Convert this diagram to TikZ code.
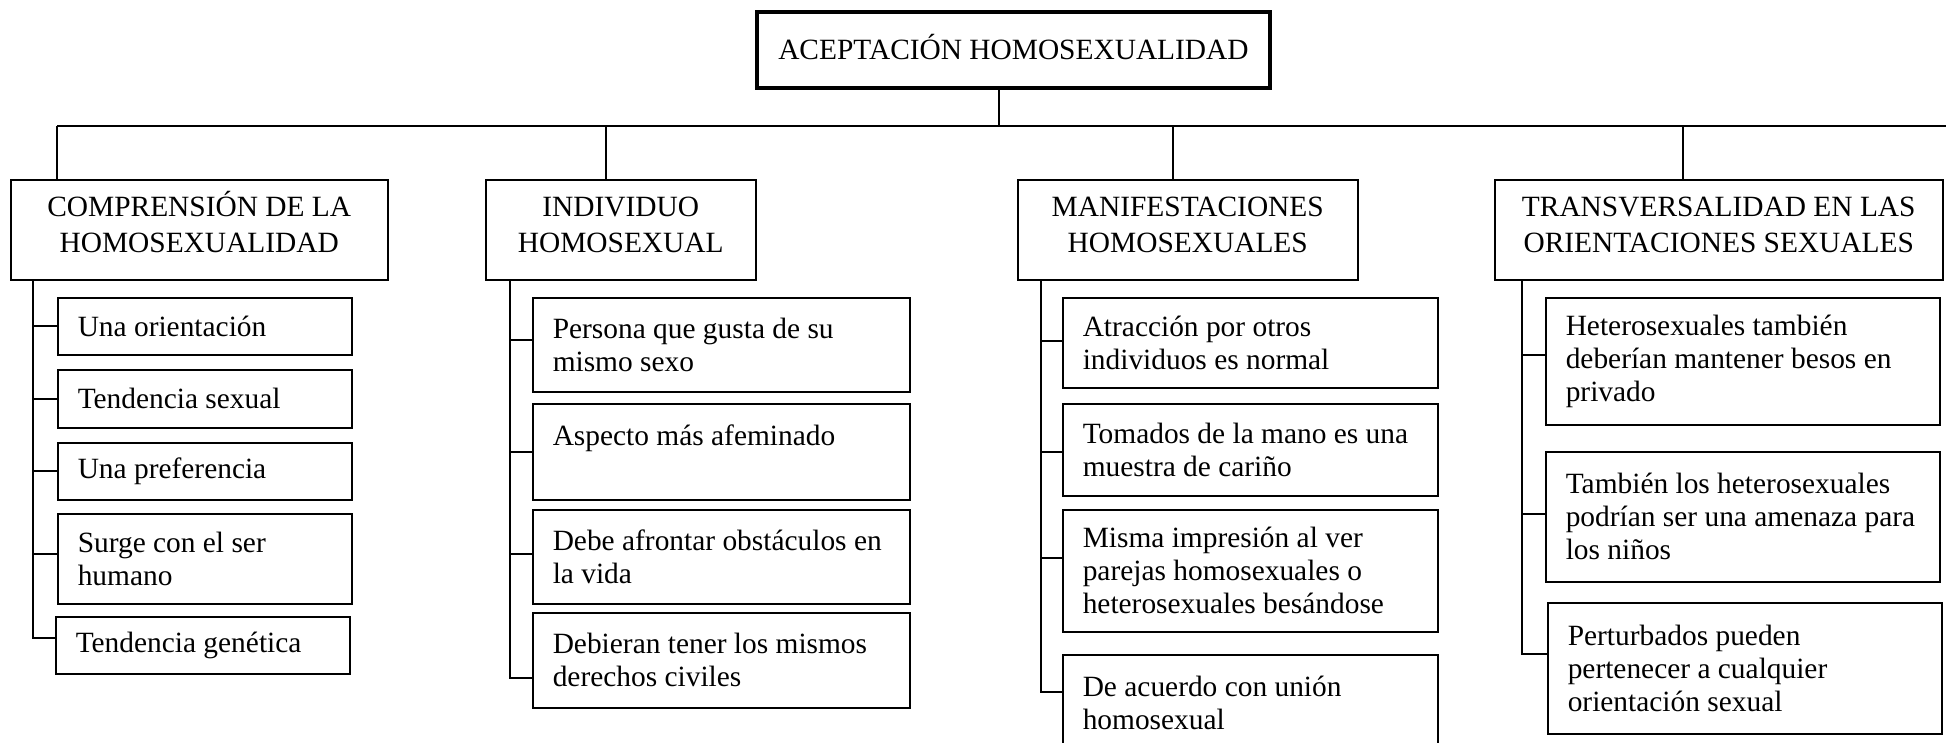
\documentclass[tikz,border=0pt]{standalone}
\usepackage{fontspec}
\setmainfont{Liberation Serif}
\usetikzlibrary{positioning,calc}
\definecolor{mapink}{RGB}{0,0,0}
\tikzset{
  rootbox/.style={
    draw=mapink,
    line width=4pt,
    anchor=north west,
    minimum width=513pt,
    minimum height=76pt,
    inner sep=0pt,
    text height=19.5pt,
    text depth=0pt,
    font=\fontsize{29.4pt}{34pt}\selectfont
  },
  catbox/.style={
    draw=mapink,
    line width=1.5pt,
    anchor=north west,
    minimum height=100pt,
    align=center,
    inner sep=0pt,
    text height=45.5pt,
    text depth=0pt,
    font=\fontsize{29.4pt}{36pt}\selectfont
  },
  leaf/.style={
    draw=mapink,
    line width=1.5pt,
    anchor=north west,
    text width=#1,
    align=justify,
    inner xsep=20pt,
    inner ysep=0pt,
    font=\fontsize{29.4pt}{33pt}\selectfont
  },
  link/.style={line width=2pt,mapink},
  bus/.style={line width=2.5pt,mapink}
}
\begin{document}
\begin{tikzpicture}[x=1pt, y=-1pt]
  \useasboundingbox[fill=white] (0,0) rectangle (1946,742);
  % raiz
  \node[rootbox] (root) at (755,10) {ACEPTACIÓN HOMOSEXUALIDAD};
  % categorias
  \node[catbox, minimum width=377pt] (catA) at (10,179) {COMPRENSIÓN DE LA\\HOMOSEXUALIDAD};
  \node[catbox, minimum width=270pt] (catB) at (485,179) {INDIVIDUO\\HOMOSEXUAL};
  \node[catbox, minimum width=340pt] (catC) at (1017,179) {MANIFESTACIONES\\HOMOSEXUALES};
  \node[catbox, minimum width=448pt] (catD) at (1494,179) {TRANSVERSALIDAD EN LAS\\ORIENTACIONES SEXUALES};
  % comprension
  \node[leaf=254pt, minimum height=57pt] (a1) at (57,297) {Una orientación};
  \node[leaf=254pt, minimum height=58pt] (a2) at (57,369) {Tendencia sexual};
  \node[leaf=254pt, minimum height=57pt] (a3) at (57,442) {Una preferencia};
  \node[leaf=254pt, minimum height=90pt] (a4) at (57,513) {Surge con el ser\\humano};
  \node[leaf=254pt, minimum height=57pt] (a5) at (55,616) {Tendencia genética};
  % individuo
  \node[leaf=337pt, minimum height=94pt] (b1) at (532,297) {Persona que gusta de su\\mismo sexo};
  \node[leaf=337pt, minimum height=96pt] (b2) at (532,403) {Aspecto más afeminado\\\mbox{}};
  \node[leaf=337pt, minimum height=94pt] (b3) at (532,509) {Debe afrontar obstáculos en\\la vida};
  \node[leaf=337pt, minimum height=95pt] (b4) at (532,612) {Debieran tener los mismos\\derechos civiles};
  % manifestaciones
  \node[leaf=335pt, minimum height=90pt] (c1) at (1062,297) {Atracción por otros\\individuos es normal};
  \node[leaf=335pt, minimum height=92pt] (c2) at (1062,403) {Tomados de la mano es una\\muestra de cariño};
  \node[leaf=335pt, minimum height=122pt] (c3) at (1062,509) {Misma impresión al ver\\parejas homosexuales o\\heterosexuales besándose};
  \node[leaf=335pt, minimum height=96pt] (c4) at (1062,654) {De acuerdo con unión\\homosexual};
  % transversalidad
  \node[leaf=354pt, minimum height=127pt] (d1) at (1545,297) {Heterosexuales también\\deberían mantener besos en\\privado};
  \node[leaf=354pt, minimum height=130pt] (d2) at (1545,451) {También los heterosexuales\\podrían ser una amenaza para\\los niños};
  \node[leaf=354pt, minimum height=131pt] (d3) at (1547,602) {Perturbados pueden\\pertenecer a cualquier\\orientación sexual};
  % barra principal
  \coordinate (jR) at (999,126);
  \coordinate (jA) at (57,126);
  \coordinate (jB) at (606,126);
  \coordinate (jC) at (1173,126);
  \coordinate (jD) at (1683,126);
  \coordinate (jE) at (1946,126);
  \draw[bus] (jA) -- (jE);
  \draw[link] (root.south -| jR) -- (jR);
  \foreach \c in {A,B,C,D}
    \draw[link] (j\c) -- (j\c |- cat\c.north);
  % ramas
  \coordinate (tA) at (33,279);
  \coordinate (tB) at (510,279);
  \coordinate (tC) at (1041,279);
  \coordinate (tD) at (1522,279);
  \foreach \n/\s in {a1/0,a2/0,a3/0,a4/5,a5/7,b1/5,b2/0,b3/3,b4/-18,c1/2,c2/-2,c3/13,c4/11,d1/6,d2/3,d3/14}
    \coordinate (s\n) at ([yshift=\s pt]\n.west);
  \draw[link] (tA) |- (sa5);
  \draw[link] (tB) |- (sb4);
  \draw[link] (tC) |- (sc4);
  \draw[link] (tD) |- (sd3);
  \foreach \n in {a1,a2,a3,a4}
    \draw[link] (tA |- s\n) -- (s\n);
  \foreach \n in {b1,b2,b3}
    \draw[link] (tB |- s\n) -- (s\n);
  \foreach \n in {c1,c2,c3}
    \draw[link] (tC |- s\n) -- (s\n);
  \foreach \n in {d1,d2}
    \draw[link] (tD |- s\n) -- (s\n);
\end{tikzpicture}
\end{document}
